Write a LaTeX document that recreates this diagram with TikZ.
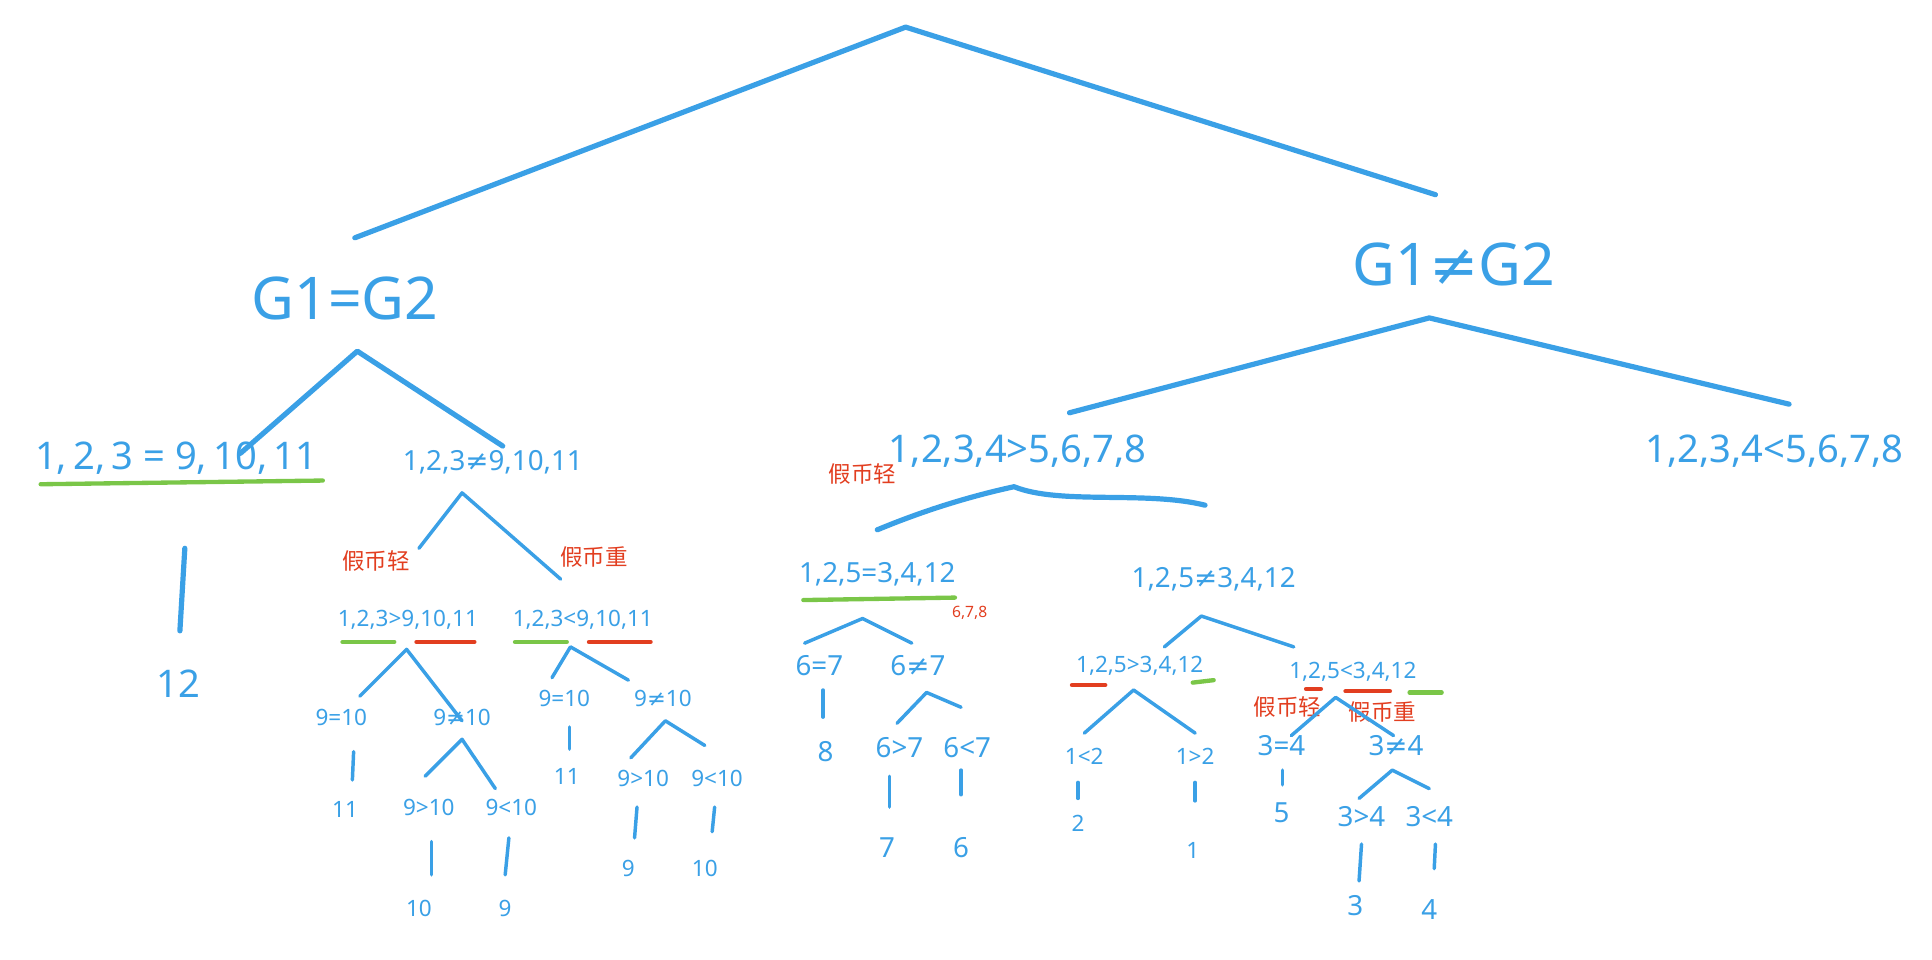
\documentclass[tikz,border=0pt]{standalone}
\usepackage{fontspec}
\setmainfont{Noto Sans}
\newfontfamily\cjk{Noto Sans CJK SC}
\newfontfamily\dvs{DejaVu Sans}
\newcommand\nq{{\dvs ≠}}
\definecolor{pen}{RGB}{58,160,230}
\definecolor{redpen}{RGB}{226,62,32}
\definecolor{greenpen}{RGB}{122,198,72}
\tikzset{
  big/.style={text=pen, font=\fontsize{34}{38}\selectfont},
  mid/.style={text=pen, font=\fontsize{22}{26}\selectfont},
  sml/.style={text=pen, font=\fontsize{16}{19}\selectfont},
  tny/.style={text=pen, font=\fontsize{13}{15}\selectfont},
  note/.style={text=redpen, font=\cjk\fontsize{13}{15}\selectfont},
  br/.style={pen, line width=3pt, line cap=round, line join=round},
  tw/.style={pen, line width=2pt, line cap=round, line join=round},
  ul/.style={line width=2.5pt, line cap=round},
}
\begin{document}
\begin{tikzpicture}[x=0.025cm, y=-0.025cm]
    \useasboundingbox (0,0) rectangle (1568,779);
    % top split
    \coordinate (r) at (735,22);
    \coordinate (rl) at (288,193);
    \coordinate (rr) at (1165,158);
    \draw[br] (rl) -- (r) -- (rr);
    \node[big] (g1) at (280,242) {G1=G2};
    \node[big] (g2) at (1180,215) {G1\nq G2};

    % left half
    \coordinate (ga) at (290,285);
    \coordinate (gal) at (195,368);
    \coordinate (gar) at (408,362);
    \draw[br] (gal) -- (ga) -- (gar);
    \node[mid] (a) at (143,372) {1,\,2,\,3 = 9,\,10,\,11};
    \coordinate (a1) at (33,393);
    \coordinate (a2) at (262,390);
    \draw[ul, greenpen] (a1) -- (a2);
    \node[mid] (a12) at (145,555) {12};
    \coordinate (at) at (150,445);
    \coordinate (ab) at (146,512);
    \draw[br] (at) -- (ab);

    \node[sml] (b) at (400,375) {1,2,3\nq 9,10,11};
    \coordinate (ba) at (375,400);
    \coordinate (bal) at (340,445);
    \coordinate (bar) at (455,470);
    \draw[tw] (bal) -- (ba) -- (bar);
    \node[note] (bl) at (305,455) {假币轻};
    \node[note] (bh) at (482,452) {假币重};

    \node[tny] (b1) at (331,503) {1,2,3>9,10,11};
    \draw[ul, greenpen] (278,521) coordinate (u1) -- (320,521) coordinate (u2);
    \draw[ul, redpen] (338,521) coordinate (u3) -- (385,521) coordinate (u4);
    \node[tny] (b2) at (473,503) {1,2,3<9,10,11};
    \draw[ul, greenpen] (418,521) coordinate (u5) -- (460,521) coordinate (u6);
    \draw[ul, redpen] (478,521) coordinate (u7) -- (528,521) coordinate (u8);

    \coordinate (b1a) at (330,527);
    \draw[tw] (292,565) coordinate (b1l) -- (b1a) -- (375,585) coordinate (b1r);
    \node[tny] (p1) at (277,582) {9=10};
    \node[tny] (p2) at (375,582) {9\nq 10};
    \draw[tw] (287,610) coordinate (p1t) -- (286,633) coordinate (p1b);
    \node[tny] (p1x) at (280,657) {11};
    \coordinate (p2a) at (375,600);
    \draw[tw] (345,630) coordinate (p2l) -- (p2a) -- (402,640) coordinate (p2r);
    \node[tny] (p3) at (348,655) {9>10};
    \node[tny] (p4) at (415,655) {9<10};
    \draw[tw] (350,683) coordinate (p3t) -- (350,710) coordinate (p3b);
    \draw[tw] (413,680) coordinate (p4t) -- (410,710) coordinate (p4b);
    \node[tny] (p3x) at (340,737) {10};
    \node[tny] (p4x) at (410,737) {9};

    \coordinate (b2a) at (463,525);
    \draw[tw] (448,550) coordinate (b2l) -- (b2a) -- (510,552) coordinate (b2r);
    \node[tny] (q1) at (458,567) {9=10};
    \node[tny] (q2) at (538,567) {9\nq 10};
    \draw[tw] (462,590) coordinate (q1t) -- (462,608) coordinate (q1b);
    \node[tny] (q1x) at (460,630) {11};
    \coordinate (q2a) at (540,585);
    \draw[tw] (512,615) coordinate (q2l) -- (q2a) -- (572,605) coordinate (q2r);
    \node[tny] (q3) at (522,632) {9>10};
    \node[tny] (q4) at (582,632) {9<10};
    \draw[tw] (517,655) coordinate (q3t) -- (515,680) coordinate (q3b);
    \draw[tw] (580,655) coordinate (q4t) -- (578,675) coordinate (q4b);
    \node[tny] (q3x) at (510,705) {9};
    \node[tny] (q4x) at (572,705) {10};

    % right half
    \coordinate (ha) at (1160,258);
    \draw[br] (868,335) coordinate (hal) -- (ha) -- (1452,328) coordinate (har);
    \node[mid] (c) at (826,366) {1,2,3,4>5,6,7,8};
    \node[mid] (d) at (1440,366) {1,2,3,4<5,6,7,8};
    \coordinate (ca) at (823,395);
    \draw[br] (712,430) coordinate (cal) .. controls (760,410) and (800,400) .. (ca)
      .. controls (860,410) and (930,398) .. (978,410) coordinate (car);
    \node[note] (cl) at (700,385) {假币轻};

    \node[sml] (c1) at (712,466) {1,2,5=3,4,12};
    \draw[ul, greenpen] (652,487) coordinate (v1) -- (775,485) coordinate (v2);
    \node[note, font=\fontsize{9}{10}\selectfont] (c1n) at (787,497) {6,7,8};
    \node[sml] (c2) at (985,470) {1,2,5\nq 3,4,12};

    \coordinate (c1a) at (700,502);
    \draw[tw] (653,522) coordinate (c1l) -- (c1a) -- (740,522) coordinate (c1r);
    \node[sml] (s1) at (665,540) {6=7};
    \node[sml] (s2) at (745,540) {6\nq 7};
    \draw[tw] (668,560) coordinate (s1t) -- (668,582) coordinate (s1b);
    \node[sml] (s1x) at (670,610) {8};
    \coordinate (s2a) at (752,562);
    \draw[tw] (728,587) coordinate (s2l) -- (s2a) -- (780,574) coordinate (s2r);
    \node[sml] (s3) at (730,607) {6>7};
    \node[sml] (s4) at (785,607) {6<7};
    \draw[tw] (722,630) coordinate (s3t) -- (722,655) coordinate (s3b);
    \draw[tw] (780,625) coordinate (s4t) -- (780,645) coordinate (s4b);
    \node[sml] (s3x) at (720,688) {7};
    \node[sml] (s4x) at (780,688) {6};

    \coordinate (c2a) at (975,500);
    \draw[tw] (945,525) coordinate (c2l) -- (c2a) -- (1050,525) coordinate (c2r);
    \node[tny] (t1) at (925,540) {1,2,5>3,4,12};
    \draw[ul, redpen] (870,556) coordinate (w1) -- (897,556) coordinate (w2);
    \draw[ul, greenpen] (968,554) coordinate (w3) -- (985,552) coordinate (w4);
    \coordinate (t1a) at (920,560);
    \draw[tw] (880,595) coordinate (t1l) -- (t1a) -- (970,595) coordinate (t1r);
    \node[tny] (k1) at (880,614) {1<2};
    \node[tny] (k2) at (970,614) {1>2};
    \draw[tw] (875,635) coordinate (k1t) -- (875,648) coordinate (k1b);
    \draw[tw] (970,635) coordinate (k2t) -- (970,650) coordinate (k2b);
    \node[tny] (k1x) at (875,668) {2};
    \node[tny] (k2x) at (968,690) {1};

    \node[tny] (t2) at (1098,545) {1,2,5<3,4,12};
    \draw[ul, redpen] (1060,559) coordinate (w5) -- (1072,559) coordinate (w6);
    \draw[ul, redpen] (1092,561) coordinate (w7) -- (1128,561) coordinate (w8);
    \draw[ul, greenpen] (1144,562) coordinate (w9) -- (1170,562) coordinate (w10);
    \node[note] (tl) at (1045,574) {假币轻};
    \node[note] (th) at (1122,578) {假币重};
    \coordinate (t2a) at (1084,566);
    \draw[tw] (1048,597) coordinate (t2l) -- (t2a) -- (1131,597) coordinate (t2r);
    \node[sml] (m1) at (1040,605) {3=4};
    \node[sml] (m2) at (1133,605) {3\nq 4};
    \draw[tw] (1041,625) coordinate (m1t) -- (1041,637) coordinate (m1b);
    \node[sml] (m1x) at (1040,660) {5};
    \coordinate (m2a) at (1130,625);
    \draw[tw] (1103,648) coordinate (m2l) -- (m2a) -- (1160,640) coordinate (m2r);
    \node[sml] (m3) at (1105,663) {3>4};
    \node[sml] (m4) at (1160,663) {3<4};
    \draw[tw] (1105,685) coordinate (m3t) -- (1103,715) coordinate (m3b);
    \draw[tw] (1165,685) coordinate (m4t) -- (1164,705) coordinate (m4b);
    \node[sml] (m3x) at (1100,735) {3};
    \node[sml] (m4x) at (1160,738) {4};
\end{tikzpicture}
\end{document}
